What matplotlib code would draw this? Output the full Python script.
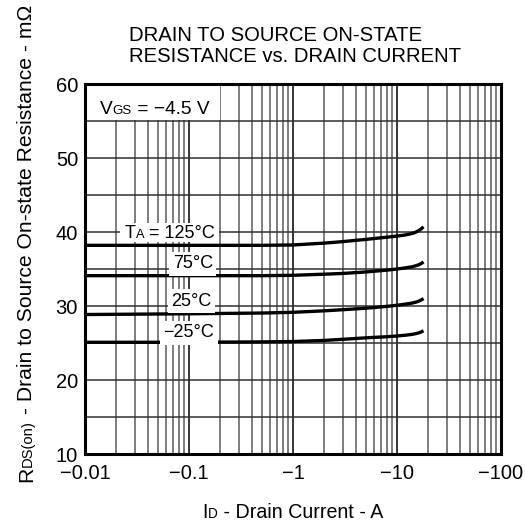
import matplotlib
matplotlib.use("Agg")
import matplotlib.pyplot as plt
from matplotlib.patches import Rectangle
from matplotlib.transforms import IdentityTransform, Bbox
from matplotlib.ticker import FixedLocator, FixedFormatter, NullFormatter

plt.rcParams['font.family'] = ['Liberation Sans', 'DejaVu Sans']

# Data (|I_D| in A, R in mOhm)
current = [0.01, 0.1, 0.5, 1, 2, 3, 5, 8, 10, 12, 14, 15, 16, 17, 18]
r_125 = [38.2, 38.2, 38.2, 38.25, 38.5, 38.7, 39.0, 39.3, 39.45, 39.6, 39.8, 39.95, 40.15, 40.4, 40.7]
r_75 = [34.1, 34.1, 34.1, 34.15, 34.3, 34.4, 34.6, 34.85, 35.0, 35.15, 35.3, 35.42, 35.55, 35.72, 35.95]
r_25 = [28.85, 28.95, 29.05, 29.15, 29.35, 29.5, 29.7, 29.95, 30.1, 30.25, 30.4, 30.5, 30.62, 30.8, 31.0]
r_m25 = [25.1, 25.1, 25.15, 25.2, 25.35, 25.5, 25.7, 25.85, 25.95, 26.05, 26.17, 26.25, 26.35, 26.48, 26.65]

x_ticks = [0.01, 0.1, 1, 10, 100]
x_ticklabels = ['\u22120.01', '\u22120.1', '\u22121', '\u221210', '\u2212100']
y_ticks = [10, 20, 30, 40, 50, 60]
y_minor = [15, 25, 35, 45, 55]

W = H = 525
fig = plt.figure(figsize=(5.25, 5.25), dpi=100)
ax = fig.add_axes([0.1619, 0.1352, 0.7924, 0.7048])
ax.set_xscale('log')
ax.set_xlim(0.01, 100)
ax.set_ylim(10, 60)
ax.set_axisbelow(True)

minor_x = [m * d for d in [0.01, 0.1, 1, 10] for m in range(2, 10)]
ax.xaxis.set_major_locator(FixedLocator(x_ticks))
ax.xaxis.set_major_formatter(FixedFormatter(x_ticklabels))
ax.xaxis.set_minor_locator(FixedLocator(minor_x))
ax.xaxis.set_minor_formatter(NullFormatter())
ax.yaxis.set_major_locator(FixedLocator(y_ticks))
ax.yaxis.set_minor_locator(FixedLocator(y_minor))

ax.grid(True, which='major', axis='x', color='black', lw=1.1)
ax.grid(True, which='minor', axis='x', color='#5a5a5a', lw=1.1)
ax.grid(True, which='both', axis='y', color='#303030', lw=1.1)

ax.tick_params(which='both', length=0)
ax.tick_params(axis='x', pad=7, labelsize=14.5)
ax.tick_params(axis='y', pad=5, labelsize=14.5)
for s in ax.spines.values():
    s.set_linewidth(2.2)

for r in [r_125, r_75, r_25, r_m25]:
    ax.plot(current, r, color='black', lw=2.4, zorder=3, solid_capstyle='butt')

renderer = fig.canvas.get_renderer()


def chain(x_px, y_top_px, pieces, rotation=0, center=False):
    """Place text pieces on a shared baseline (pixel coords, y from top)."""
    arts = []
    lengths = []
    for s, fs in pieces:
        t = fig.text(0, 0, s, fontsize=fs, ha='left', va='baseline',
                     rotation=rotation, rotation_mode='anchor',
                     transform=IdentityTransform(), zorder=4)
        ext = t.get_window_extent(renderer)
        lengths.append(ext.height if rotation else ext.width)
        arts.append(t)
    total = sum(lengths)
    pos = (x_px if not rotation else (H - y_top_px)) - (total / 2 if center else 0)
    for t, L in zip(arts, lengths):
        if rotation:
            t.set_position((x_px, pos))
        else:
            t.set_position((pos, H - y_top_px))
        pos += L
    return arts


# VGS box
ax.add_patch(Rectangle((0.01, 55.15), 0.197 - 0.01, 4.85, facecolor='white',
                       edgecolor='none', zorder=1.5))
chain(100, 113.5, [('V', 13.8), ('GS', 9.6), (' = \u22124.5 V', 13.8)])

# T_A = 125 C label with white background
ta = chain(125, 237.5, [('T', 13), ('A', 9.2), (' = 125°C', 13)])
u = Bbox.union([t.get_window_extent(renderer) for t in ta])
fig.patches.append(Rectangle((u.x0 - 5, u.y0 - 0.5), u.width + 9, u.height + 2,
                             transform=IdentityTransform(), facecolor='white',
                             edgecolor='none', zorder=3.5, figure=fig))

bb = dict(facecolor='white', edgecolor='none', pad=2.5)
ax.text(0.17, 35.7, '75°C', ha='right', va='center', fontsize=13, zorder=4, bbox=bb)
ax.text(0.165, 30.65, '25°C', ha='right', va='center', fontsize=13, zorder=4, bbox=bb)
ax.text(0.175, 26.4, '\u221225°C', ha='right', va='center', fontsize=13, zorder=4, bbox=bb)

fig.text(129 / W, 1 - 41 / H, 'DRAIN TO SOURCE ON-STATE', ha='left', va='baseline', fontsize=14.6)
fig.text(129 / W, 1 - 62 / H, 'RESISTANCE vs. DRAIN CURRENT', ha='left', va='baseline', fontsize=14.6)

chain(293, 517.5, [('I', 14.1), ('D', 9.8), (' - Drain Current - A', 14.1)], center=True)
chain(32, 243.5, [('R', 15.2), ('DS(on)', 10.6),
                  (' - Drain to Source On-state Resistance - m\u03a9', 15.2)],
      rotation=90, center=True)

fig.savefig('out.png', dpi=100)
